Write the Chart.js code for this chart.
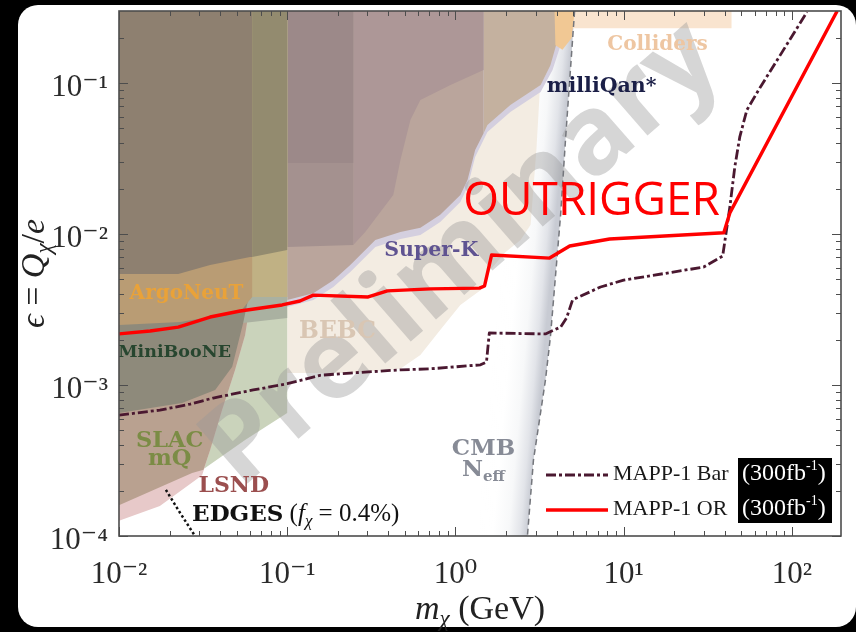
<!DOCTYPE html>
<html>
<head>
<meta charset="utf-8">
<title>MAPP-1 millicharged particle reach</title>
<script src="https://cdn.jsdelivr.net/npm/chart.js@4.4.1/dist/chart.umd.min.js"></script>
<style>
  html, body { margin: 0; padding: 0; width: 856px; height: 632px; background: #000; overflow: hidden; }
  #card { position: absolute; left: 18px; top: 5px; width: 838px; height: 622px; background: #fff; border-radius: 20px; }
  #plot { position: absolute; left: 0; top: 0; }
</style>
</head>
<body>
<div id="card"></div>
<canvas id="plot" width="856" height="632"></canvas>
<script>
// ── Curves: [m (GeV), epsilon] ────────────────────────────────
const mappOR = [
  [0.01, 2.18e-3], [0.0153, 2.28e-3], [0.0225, 2.42e-3], [0.0348, 2.82e-3], [0.0525, 3.09e-3],
  [0.0933, 3.39e-3], [0.119, 3.60e-3], [0.143, 3.94e-3], [0.303, 3.83e-3], [0.394, 4.20e-3],
  [0.71, 4.33e-3], [1.39, 4.38e-3], [1.49, 4.53e-3], [1.64, 7.26e-3], [3.63, 6.93e-3],
  [4.78, 8.33e-3], [8.26, 9.27e-3], [39.4, 1.02e-2], [42.8, 1.38e-2], [186, 0.30]
];
const mappBar = [
  [0.01, 6.32e-4], [0.0175, 6.82e-4], [0.0265, 7.48e-4], [0.0363, 8.20e-4], [0.0628, 9.27e-4],
  [0.1, 1.02e-3], [0.157, 1.16e-3], [0.237, 1.20e-3], [0.471, 1.26e-3], [0.71, 1.28e-3],
  [1.41, 1.36e-3], [1.53, 1.42e-3], [1.59, 2.21e-3], [3.43, 2.18e-3], [4.22, 2.42e-3],
  [4.58, 2.78e-3], [4.97, 3.66e-3], [7.29, 4.46e-3], [10.0, 4.95e-3], [29.9, 6.04e-3],
  [38.8, 7.14e-3], [42.8, 1.51e-2], [45.8, 2.78e-2], [49.0, 4.38e-2], [54.0, 6.62e-2],
  [64.5, 9.27e-2], [123, 0.295]
];
const edgesBound = [[0.0190, 2.02e-4], [0.0231, 1.42e-4], [0.0283, 1.0e-4]];
const cmbBound = [[2.68, 1.0e-4], [2.91, 3.18e-4], [3.43, 1.08e-3], [3.67, 2.08e-3], [4.22, 1.34e-2], [4.52, 4.33e-2], [5.11, 0.30]];

// ── Excluded regions (outlines, closed along the top edge) ────
const colliders  = [[0.01, 1], [0.01, 0.231], [43.8, 0.231], [43.8, 1]];
const bebc       = [[0.1, 1], [0.1, 1.20e-3], [0.237, 1.20e-3], [0.471, 1.28e-3], [0.619, 1.58e-3], [0.812, 2.31e-3],
                    [1.07, 3.39e-3], [1.41, 4.25e-3], [1.61, 5.78e-3], [1.99, 7.6e-3], [2.44, 9.12e-3], [2.80, 1.15e-2],
                    [3.03, 3.6e-2], [3.25, 0.142], [3.43, 1]];
const superK     = [[0.1, 1], [0.1, 3.29e-3], [0.143, 3.66e-3], [0.188, 4.46e-3], [0.237, 5.60e-3], [0.334, 8.20e-3],
                    [0.471, 9.27e-3], [0.619, 9.85e-3], [0.812, 1.20e-2], [1.07, 1.63e-2], [1.18, 2.05e-2], [1.31, 3.24e-2],
                    [1.55, 4.74e-2], [2.12, 6.43e-2], [3.21, 8.71e-2], [3.78, 0.122], [4.22, 0.178], [4.64, 0.261], [4.84, 1]];
const tanLow     = [[0.1, 1], [0.1, 3.66e-3], [0.143, 4.06e-3], [0.188, 4.95e-3], [0.237, 6.24e-3], [0.334, 9.12e-3],
                    [0.471, 1.03e-2], [0.619, 1.10e-2], [0.812, 1.34e-2], [1.07, 1.81e-2], [1.18, 2.28e-2], [1.31, 3.60e-2],
                    [1.47, 4.65e-2], [1.47, 1]];
const tanHigh    = [[1.47, 1], [1.47, 4.65e-2], [1.55, 5.27e-2], [2.12, 7.15e-2], [3.21, 9.70e-2], [3.67, 0.131],
                    [4.05, 0.193], [4.52, 0.261], [4.71, 1]];
const orangeTop  = [[3.78, 1], [3.93, 0.178], [4.33, 0.166], [4.91, 0.199], [5.11, 0.295], [5.25, 1]];
const mauve      = [[0.247, 1], [0.247, 8.45e-3], [0.291, 1.03e-2], [0.358, 1.40e-2], [0.427, 1.81e-2], [0.471, 3.09e-2],
                    [0.540, 5.69e-2], [0.619, 7.71e-2], [0.935, 9.70e-2], [1.47, 0.122], [1.47, 1]];
const purpleLow  = [[0.1, 1], [0.1, 8.2e-3], [0.247, 8.45e-3], [0.247, 1]];
const purpleHigh = [[0.1, 1], [0.1, 2.95e-2], [0.247, 2.95e-2], [0.247, 1]];
const slac       = [[0.01, 1], [0.01, 1.60e-4], [0.0272, 2.61e-4], [0.0325, 2.82e-4], [0.0562, 4.32e-4], [0.1, 6.53e-4], [0.1, 1]];
const lsnd       = [[0.01, 1], [0.01, 1.26e-4], [0.0175, 1.58e-4], [0.0312, 2.53e-4], [0.0348, 3.71e-4], [0.041, 6.83e-4],
                    [0.049, 1.26e-3], [0.0562, 2.14e-3], [0.0619, 4.25e-3], [0.0619, 1]];
const slacLsnd   = [[0.01, 1], [0.01, 1.60e-4], [0.0272, 2.61e-4], [0.0318, 2.75e-4], [0.0348, 3.71e-4], [0.041, 6.83e-4],
                    [0.049, 1.26e-3], [0.0562, 2.14e-3], [0.0619, 4.25e-3], [0.0619, 1]];
const mbSide     = [[0.0547, 1], [0.0547, 2.57e-3], [0.1, 2.78e-3], [0.1, 1]];
const miniBooNE  = [[0.01, 1], [0.01, 6.53e-4], [0.0237, 7.60e-4], [0.0373, 9.27e-4], [0.0471, 1.32e-3], [0.0547, 2.57e-3],
                    [0.0602, 4.25e-3], [0.0619, 1]];
const argoNeuT   = [[0.01, 1], [0.01, 2.50e-3], [0.0231, 2.61e-3], [0.0525, 3.04e-3], [0.0619, 3.83e-3], [0.1, 3.83e-3], [0.1, 1]];
const argoSide   = [[0.0619, 1], [0.0619, 3.83e-3], [0.1, 3.83e-3], [0.1, 1]];
const darkTop    = [[0.01, 1], [0.01, 5.43e-3], [0.0225, 5.43e-3], [0.0348, 6.24e-3], [0.0602, 7.05e-3], [0.0619, 7.05e-3], [0.0619, 1]];
const greenTop   = [[0.0619, 1], [0.0619, 7.05e-3], [0.1, 7.83e-3], [0.1, 1]];
const cmbArea    = [[0.01, 1], [0.01, 1.0e-4]].concat(cmbBound, [[5.2, 1]]);

// ── Axes ──────────────────────────────────────────────────────
const xMajor = [0.01, 0.1, 1, 10, 100];
const yMajor = [1e-4, 1e-3, 1e-2, 1e-1];
const minorMult = [2, 3, 4, 5, 6, 7, 8, 9];

const TIMES = "'Liberation Serif', 'DejaVu Serif', serif";
const B = n => `bold ${n}px 'DejaVu Serif', serif`;
const regionLabels = [
  { at: [15.9, 0.166],    color: '#eec6a2', parts: [['Colliders', B(20)]] },
  { at: [7.40, 0.0871],   color: '#1b1f47', parts: [['milliQan*', B(20.5)]] },
  { at: [0.719, 0.00715], color: '#5f5391', parts: [['Super-K', B(20.5)]] },
  { at: [0.0252, 0.00371],color: '#e9a239', parts: [['ArgoNeuT', B(20)]] },
  { at: [0.0214, 0.00153],color: '#27462f', parts: [['MiniBooNE', B(17.5)]] },
  { at: [0.199, 0.00205], color: '#d9c6b3', parts: [['BEBC', B(23.5)]] },
  { at: [0.0200, 3.89e-4],color: '#7b8c45', parts: [['SLAC', B(22.5)]] },
  { at: [0.0200, 2.96e-4],color: '#7b8c45', parts: [['mQ', B(22.5)]] },
  { at: [0.0481, 1.96e-4],color: '#9b4f4f', parts: [['LSND', B(22)]] },
  { at: [1.468, 3.44e-4], color: '#878b96', parts: [['CMB', B(23)]] },
  { at: [1.468, 2.50e-4], color: '#878b96', parts: [['N', B(23)], ['eff', B(15), 5]] },
  { at: [0.0272, 1.26e-4],color: '#111111', align: 'left',
    parts: [['EDGES', B(23)], [' (', '25px ' + TIMES], ['f', 'italic 25px ' + TIMES], ['χ', 'italic 17px ' + TIMES, 5], [' = 0.4%)', '25px ' + TIMES]] },
  { at: [6.45, 0.01337],  color: '#ff0000', parts: [['OUTRIGGER', "46px 'Open Sans', sans-serif"]] }
];
const watermarkAt = [1.10, 7.26e-3];

// ── Helpers ───────────────────────────────────────────────────
const toXY = pts => pts.map(([x, y]) => ({ x, y }));

function area(label, pts, color) {
  return { label, data: toXY(pts), showLine: true, fill: 'shape', backgroundColor: color,
           borderColor: 'rgba(0,0,0,0)', borderWidth: 0, pointRadius: 0, pointHitRadius: 0 };
}
function curve(label, pts, color, width, dash) {
  return { label, data: toXY(pts), showLine: true, fill: false, borderColor: color, borderWidth: width,
           borderDash: dash || [], borderJoinStyle: 'round', pointRadius: 0, pointHitRadius: 0 };
}

const sup = { '-': '\u207B', '0': '\u2070', '1': '\u00B9', '2': '\u00B2', '3': '\u00B3', '4': '\u2074' };
const powTen = v => '10' + String(Math.round(Math.log10(v))).split('').map(c => sup[c]).join('');

function setLogTicks(scale, majors) {
  const out = [];
  majors.forEach(m => {
    out.push({ value: m, major: true });
    minorMult.forEach(k => out.push({ value: m * k, major: false }));
  });
  scale.ticks = out.filter(t => t.value >= scale.min * 0.999 && t.value < scale.max * 0.999);
}

function cmbFade(c) {
  const ch = c.chart;
  if (!ch.chartArea) return 'rgba(0,0,0,0)';
  const xs = ch.scales.x, ys = ch.scales.y;
  const a = cmbBound[0], b = cmbBound[cmbBound.length - 1];
  const ax = xs.getPixelForValue(a[0]), ay = ys.getPixelForValue(a[1]);
  const bx = xs.getPixelForValue(b[0]), by = ys.getPixelForValue(b[1]);
  const len = Math.hypot(bx - ax, by - ay);
  const nx = (by - ay) / len, ny = -(bx - ax) / len;
  const mx = (ax + bx) / 2, my = (ay + by) / 2, w = 50;
  const g = ch.ctx.createLinearGradient(mx + w * nx, my + w * ny, mx, my);
  g.addColorStop(0, 'rgba(255,255,255,0)');
  g.addColorStop(0.3, 'rgba(255,255,255,1)');
  g.addColorStop(0.62, 'rgba(247,248,249,1)');
  g.addColorStop(0.85, 'rgba(226,228,233,1)');
  g.addColorStop(1, 'rgba(200,203,211,1)');
  return g;
}

function drawRich(ctx, parts, x, y, align, color) {
  ctx.save();
  ctx.textBaseline = 'alphabetic';
  ctx.textAlign = 'left';
  ctx.fillStyle = color;
  let w = 0;
  parts.forEach(([t, f]) => { ctx.font = f; w += ctx.measureText(t).width; });
  let cx = align === 'left' ? x : x - w / 2;
  parts.forEach(([t, f, dy]) => {
    ctx.font = f;
    ctx.fillText(t, cx, y + (dy || 0));
    cx += ctx.measureText(t).width;
  });
  ctx.restore();
}

// ── Datasets, back to front ───────────────────────────────────
const layers = [
  Object.assign(area('CMB Neff', cmbArea, 'rgba(0,0,0,0)'), { backgroundColor: cmbFade }),
  area('Colliders', colliders, '#f9e4cf'),
  area('BEBC', bebc, '#f3ece2'),
  area('Super-K', superK, '#d4cfdf'),
  area('tanLow', tanLow, '#baa59c'),
  area('tanHigh', tanHigh, '#c4b19f'),
  area('orangeTop', orangeTop, '#f1c894'),
  area('mauve', mauve, '#ad9797'),
  area('purpleLow', purpleLow, '#a4918f'),
  area('purpleHigh', purpleHigh, '#9c8989'),
  area('SLAC mQ', slac, '#cad3bb'),
  area('LSND', lsnd, '#e7c9c9'),
  area('SLAC+LSND', slacLsnd, '#b9a190'),
  area('mbSide', mbSide, '#aab1a1'),
  area('MiniBooNE', miniBooNE, '#8e8a7b'),
  area('ArgoNeuT', argoNeuT, '#b99c74'),
  area('argoSide', argoSide, '#c0b184'),
  area('darkTop', darkTop, '#8e8070'),
  area('greenTop', greenTop, '#938b6f'),
  curve('EDGES', edgesBound, '#111111', 2.5, [2.5, 2.5]),
  curve('CMB line', cmbBound.slice().reverse(), '#74767c', 1.5, [6, 4]),
  curve('MAPP-1 Bar', mappBar, '#4a1830', 2.8, [10, 3, 3, 3]),
  curve('MAPP-1 OR', mappOR, '#ff0000', 3.4)
];
layers.forEach((d, i) => { d.order = layers.length - i; });

// ── Overlay: watermark, labels, legend, frame, titles ─────────
const overlay = {
  id: 'overlay',
  beforeDatasetDraw(chart, args) {
    if (chart.data.datasets[args.index].label !== 'EDGES') return;
    const { ctx, chartArea: a, scales: { x, y } } = chart;
    ctx.save();
    ctx.beginPath();
    ctx.rect(a.left, a.top, a.right - a.left, a.bottom - a.top);
    ctx.clip();
    ctx.translate(x.getPixelForValue(watermarkAt[0]), y.getPixelForValue(watermarkAt[1]));
    ctx.rotate(-41 * Math.PI / 180);
    ctx.font = "bold 110px 'Open Sans', sans-serif";
    ctx.textAlign = 'center';
    ctx.textBaseline = 'middle';
    ctx.fillStyle = 'rgba(153,153,153,0.40)';
    ctx.fillText('Preliminary', 0, 0);
    ctx.restore();
  },
  afterDatasetsDraw(chart) {
    const { ctx, chartArea: a, scales: { x, y } } = chart;

    regionLabels.forEach(l => {
      drawRich(ctx, l.parts, x.getPixelForValue(l.at[0]), y.getPixelForValue(l.at[1]), l.align || 'center', l.color);
    });

    // legend
    const rows = [{ label: 'MAPP-1 Bar', y: 475 }, { label: 'MAPP-1 OR', y: 510 }];
    ctx.save();
    ctx.fillStyle = '#000';
    ctx.fillRect(738, 458, 94, 65);
    rows.forEach(r => {
      const ds = chart.data.datasets.find(d => d.label === r.label);
      ctx.strokeStyle = ds.borderColor;
      ctx.lineWidth = ds.borderWidth;
      ctx.setLineDash(ds.borderDash);
      ctx.beginPath();
      ctx.moveTo(546, r.y);
      ctx.lineTo(608, r.y);
      ctx.stroke();
      ctx.setLineDash([]);
      drawRich(ctx, [[ds.label, '22px ' + TIMES]], 613, r.y + 5, 'left', '#1a1a1a');
      drawRich(ctx, [['(300fb', '24px ' + TIMES], ['-1', '14px ' + TIMES, -10], [')', '24px ' + TIMES]], 742, r.y + 5, 'left', '#ffffff');
    });
    ctx.restore();

    // frame with inward ticks on all sides
    ctx.save();
    ctx.strokeStyle = '#4d4d4d';
    ctx.lineWidth = 1;
    ctx.beginPath();
    x.ticks.forEach(t => {
      const p = Math.round(x.getPixelForValue(t.value)) + 0.5, L = t.major ? 9 : 5;
      ctx.moveTo(p, a.bottom); ctx.lineTo(p, a.bottom - L);
      ctx.moveTo(p, a.top); ctx.lineTo(p, a.top + L);
    });
    y.ticks.forEach(t => {
      const p = Math.round(y.getPixelForValue(t.value)) + 0.5, L = t.major ? 9 : 5;
      ctx.moveTo(a.left, p); ctx.lineTo(a.left + L, p);
      ctx.moveTo(a.right, p); ctx.lineTo(a.right - L, p);
    });
    ctx.stroke();
    ctx.lineWidth = 1.6;
    ctx.strokeRect(a.left, a.top, a.right - a.left, a.bottom - a.top);
    ctx.restore();

    // axis titles
    const it = 'italic 34px ' + TIMES, rm = '34px ' + TIMES, sb = 'italic 23px ' + TIMES;
    drawRich(ctx, [['m', it], ['χ', sb, 7], [' (GeV)', rm]], (a.left + a.right) / 2, 619, 'center', '#222');
    ctx.save();
    ctx.translate(44, (a.top + a.bottom) / 2);
    ctx.rotate(-Math.PI / 2);
    drawRich(ctx, [['ϵ', it], [' = ', rm], ['Q', it], ['χ', sb, 7], ['/', rm], ['e', it]], 0, 0, 'center', '#222');
    ctx.restore();
  }
};

const tickFont = { family: TIMES, size: 31 };
new Chart(document.getElementById('plot'), {
  type: 'scatter',
  data: { datasets: layers },
  options: {
    responsive: false,
    animation: false,
    events: [],
    layout: { padding: { top: 11, right: 15, left: 0, bottom: 0 } },
    plugins: { legend: { display: false }, tooltip: { enabled: false }, colors: { enabled: false } },
    scales: {
      x: {
        type: 'logarithmic', min: 0.01, max: 196,
        afterBuildTicks: s => setLogTicks(s, xMajor),
        afterFit: s => { s.height = 96; s.paddingLeft = 0; s.paddingRight = 0; },
        grid: { display: false, drawTicks: false }, border: { display: false },
        ticks: { autoSkip: false, maxRotation: 0, padding: 20, color: '#2a2a2a', font: tickFont,
                 callback: (v, i, t) => t[i].major ? powTen(v) : '' }
      },
      y: {
        type: 'logarithmic', min: 1e-4, max: 0.3,
        afterBuildTicks: s => setLogTicks(s, yMajor),
        afterFit: s => { s.width = 119; s.paddingTop = 0; s.paddingBottom = 0; },
        grid: { display: false, drawTicks: false }, border: { display: false },
        ticks: { autoSkip: false, padding: 11, labelOffset: 5, color: '#2a2a2a', font: tickFont,
                 callback: (v, i, t) => t[i].major ? powTen(v) : '' }
      }
    }
  },
  plugins: [overlay]
});
</script>
</body>
</html>
